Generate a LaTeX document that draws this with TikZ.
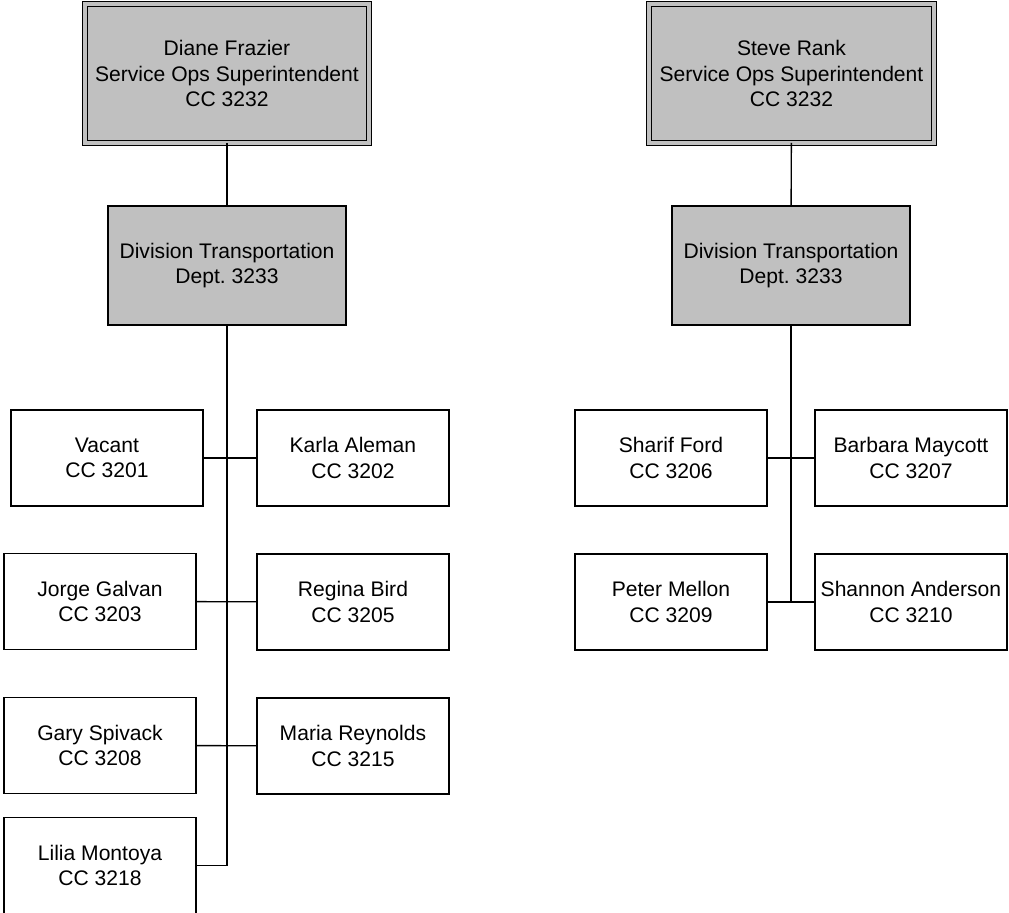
\documentclass[tikz,border=0pt]{standalone}
\usepackage{fontspec}
\setmainfont{Liberation Sans}
\usetikzlibrary{positioning,calc}
\definecolor{boxgray}{RGB}{192,192,192}
\frenchspacing
\tikzset{
  head/.style={
    draw=black,
    rectangle,
    line width=0.6pt,
    double=boxgray,
    double distance=1.8pt,
    fill=boxgray,
    minimum width=5.68cm,
    minimum height=2.78cm,
    align=center,
    inner sep=2pt,
    outer sep=0pt,
    font=\fontsize{12}{14.5}\selectfont
  },
  dept/.style={
    draw=black,
    rectangle,
    line width=0.9pt,
    fill=boxgray,
    minimum width=4.76cm,
    minimum height=2.38cm,
    align=center,
    inner sep=2pt,
    outer sep=0pt,
    font=\fontsize{12}{14.5}\selectfont
  },
  staff/.style={
    draw=black,
    rectangle,
    line width=0.9pt,
    fill=white,
    minimum width=3.84cm,
    minimum height=1.92cm,
    align=center,
    inner sep=2pt,
    outer sep=0pt,
    font=\fontsize{12}{14.5}\selectfont
  },
  link/.style={draw=black, line width=0.8pt}
}
\begin{document}
\begin{tikzpicture}[x=0.02cm, y=-0.02cm]
  \useasboundingbox (0,0) rectangle (1009,913);

  % left branch
  \node[head] (topL) at (227,73.5) {Diane Frazier\\Service Ops Superintendent\\CC 3232};
  \node[dept] (divL) at (227,265.5) {Division Transportation\\Dept. 3233};

  \node[staff] (vacant) at (107,458) {Vacant\\CC 3201};
  \node[staff, right=1.08cm of vacant] (karla) {Karla Aleman\\CC 3202};
  \node[staff] (jorge) at (100,601.5) {Jorge Galvan\\CC 3203};
  \node[staff, below=0.96cm of karla] (regina) {Regina Bird\\CC 3205};
  \node[staff, below=0.96cm of jorge] (gary) {Gary Spivack\\CC 3208};
  \node[staff, below=0.96cm of regina] (maria) {Maria Reynolds\\CC 3215};
  \node[staff, below=0.48cm of gary] (lilia) {Lilia Montoya\\CC 3218};

  % right branch
  \node[head, minimum width=5.7cm] (topR) at (791.5,73.5) {Steve Rank\\Service Ops Superintendent\\CC 3232};
  \node[dept] (divR) at (791,265.5) {Division Transportation\\Dept. 3233};

  \node[staff] (sharif) at (671,458) {Sharif Ford\\CC 3206};
  \node[staff, right=0.96cm of sharif] (barbara) {Barbara Maycott\\CC 3207};
  \node[staff, below=0.96cm of sharif] (peter) {Peter Mellon\\CC 3209};
  \node[staff, below=0.96cm of barbara] (shannon) {Shannon Anderson\\CC 3210};

  % connectors
  \draw[link] (topL) -- (divL);
  \draw[link] (divL) |- (lilia);
  \draw[link] (vacant) -- (karla);
  \draw[link] (jorge) -- (regina);
  \draw[link] (gary) -- (maria);

  \draw[link] (topR) -- (divR);
  \draw[link] (divR) -- (divR |- peter);
  \draw[link] (sharif) -- (barbara);
  \draw[link] (peter) -- (shannon);
\end{tikzpicture}
\end{document}
